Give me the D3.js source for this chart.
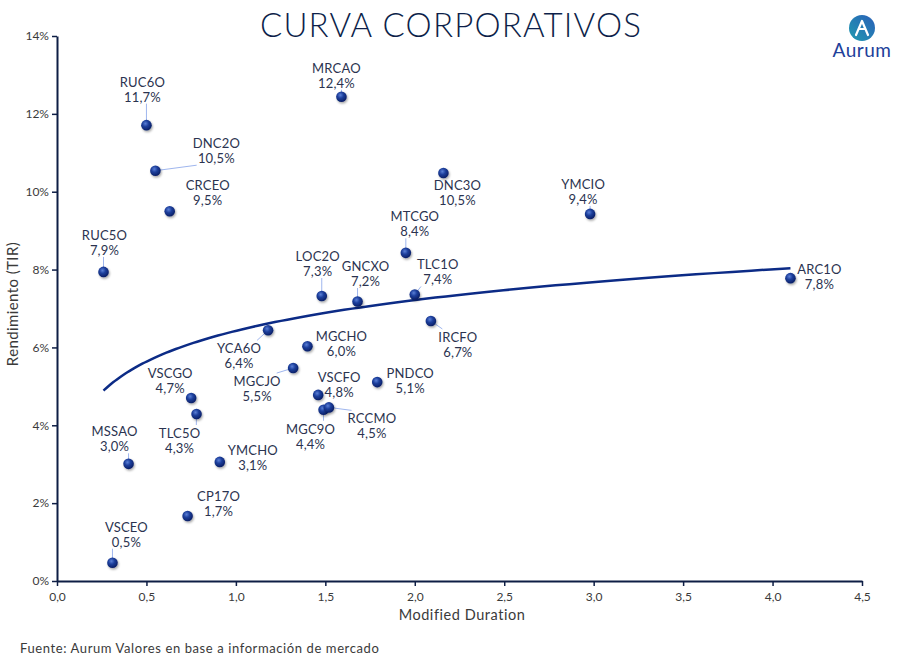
<!DOCTYPE html>
<html><head><meta charset="utf-8">
<script src="https://cdn.jsdelivr.net/npm/d3@7"></script>
<style>
html,body{margin:0;padding:0;background:#fff;}
svg{display:block;font-family:"Lato","Noto Sans",sans-serif;}
</style></head>
<body>
<svg id="chart" width="910" height="661"></svg>
<script>
// ---- data ----
const bonds = ["RUC6O","MRCAO","DNC2O","CRCEO","RUC5O","LOC2O","GNCXO","TLC1O","MTCGO","DNC3O","YMCIO","ARC1O","IRCFO","YCA6O","MGCHO","MGCJO","VSCFO","PNDCO","MGC9O","RCCMO","VSCGO","TLC5O","MSSAO","YMCHO","CP17O","VSCEO"];
const duration = [0.50,1.59,0.55,0.63,0.26,1.48,1.68,2.00,1.95,2.16,2.98,4.10,2.09,1.18,1.40,1.32,1.46,1.79,1.49,1.52,0.75,0.78,0.40,0.91,0.73,0.31];
const yieldPct = [11.71,12.44,10.54,9.50,7.94,7.32,7.18,7.36,8.43,10.48,9.43,7.78,6.68,6.44,6.03,5.47,4.78,5.11,4.40,4.46,4.70,4.29,3.01,3.06,1.67,0.47];
const xTicks = [0,0.5,1,1.5,2,2.5,3,3.5,4,4.5];
const yTicks = [0,2,4,6,8,10,12,14];
// label layout (pixel offset of label block centre from its point) and leader-line flags
const labelOffsets = [[-4,-36.5],[-5,-22],[61,-20.5],[38,-19.5],[1,-30],[-4,-33],[8,-28.5],[23,-23],[9,-29.5],[14,18.5],[-7,-23],[29,-2],[27,23],[-29,25],[34,-3.5],[-36,20],[21,-11],[33,-2.5],[-13,26],[43,18],[-21,-18.5],[-17,26],[-14,-25.5],[33,-4.5],[31,-12.5],[14,-29]];
const hasLeader = [1,1,1,0,1,1,1,1,1,0,1,0,1,1,0,1,0,0,1,1,0,1,1,0,0,1];

const svg = d3.select("#chart");
const L=57,R=862,T=36,B=581;
const x = d3.scaleLinear().domain([0,4.5]).range([L,R]);
const y = d3.scaleLinear().domain([0,14]).range([B,T]);
const navy="#0e1e45", txt="#3a3a3a";
const comma = f => s => f(s).replace(".",",");

// defs
const defs = svg.append("defs");
const rg = defs.append("radialGradient").attr("id","ball").attr("cx","40%").attr("cy","35%").attr("r","65%");
rg.append("stop").attr("offset","0%").attr("stop-color","#5a7fd6");
rg.append("stop").attr("offset","45%").attr("stop-color","#1d3f9c");
rg.append("stop").attr("offset","100%").attr("stop-color","#0a1f66");
const lg = defs.append("linearGradient").attr("id","logo").attr("x1","0").attr("y1","1").attr("x2","1").attr("y2","0");
lg.append("stop").attr("offset","0%").attr("stop-color","#1f9bb0");
lg.append("stop").attr("offset","100%").attr("stop-color","#2a5fb8");
const sh = defs.append("filter").attr("id","shadow").attr("x","-50%").attr("y","-50%").attr("width","200%").attr("height","200%");
sh.append("feDropShadow").attr("dx",1).attr("dy",1.5).attr("stdDeviation",1).attr("flood-color","#000").attr("flood-opacity",0.35);

// title
svg.append("text").attr("x",451).attr("y",37).attr("text-anchor","middle")
  .attr("font-size",33).attr("font-weight",300).attr("fill","#0d1f4a").attr("letter-spacing","1.2")
  .text("CURVA CORPORATIVOS");

// logo
svg.append("circle").attr("cx",862).attr("cy",28).attr("r",13).attr("fill","url(#logo)");
svg.append("path").attr("d","M856,35 L862,21 L868,35 M859,29 L865,29").attr("fill","none").attr("stroke","#fff").attr("stroke-width",2.2).attr("stroke-linejoin","round").attr("stroke-linecap","round");
svg.append("text").attr("x",862).attr("y",57).attr("text-anchor","middle").attr("font-size",19).attr("fill","#21409a").attr("letter-spacing","0.5").text("Aurum");

// axes
const gx = svg.append("g").attr("transform",`translate(0,${B})`)
  .call(d3.axisBottom(x).tickValues(xTicks).tickFormat(comma(d3.format(".1f"))).tickSize(5).tickSizeOuter(0));
const gy = svg.append("g").attr("transform",`translate(${L},0)`)
  .call(d3.axisLeft(y).tickValues(yTicks).tickFormat(d=>d+"%").tickSize(5).tickSizeOuter(0));
[gx,gy].forEach(g=>{
  g.select(".domain").attr("stroke",navy).attr("stroke-width",2);
  g.selectAll(".tick line").attr("stroke",navy).attr("stroke-width",1.5);
  g.selectAll(".tick text").attr("fill",txt).attr("font-size",12).attr("font-family","Lato, sans-serif");
});
gx.selectAll(".tick text").attr("dy","1.0em");
gy.selectAll(".tick text").attr("dy","0.32em").attr("x",-8);

// axis titles
svg.append("text").attr("x",462).attr("y",620).attr("text-anchor","middle").attr("font-size",14.5).attr("letter-spacing","0.55").attr("fill",txt).text("Modified Duration");
svg.append("text").attr("transform","translate(18,304) rotate(-90)").attr("text-anchor","middle").attr("font-size",15).attr("letter-spacing","0.4").attr("fill",txt).text("Rendimiento (TIR)");
svg.append("text").attr("x",20).attr("y",653).attr("font-size",13).attr("letter-spacing","0.6").attr("fill",txt).text("Fuente: Aurum Valores en base a información de mercado");

// logarithmic trendline (least squares on ln(duration))
const lx = duration.map(Math.log);
const mx = d3.mean(lx), my = d3.mean(yieldPct);
const b = d3.sum(lx,(v,i)=>(v-mx)*(yieldPct[i]-my)) / d3.sum(lx,v=>(v-mx)*(v-mx));
const a = my - b*mx;
const [x0,x1] = d3.extent(duration);
const trendX = d3.range(0,101).map(i=>x0*Math.pow(x1/x0,i/100));
svg.append("path").datum(trendX)
  .attr("d",d3.line().x(d=>x(d)).y(d=>y(a+b*Math.log(d))))
  .attr("fill","none").attr("stroke","#0c2b86").attr("stroke-width",2.5);

// labels and leaders
const pts = bonds.map((n,i)=>({n, px:x(duration[i]), py:y(yieldPct[i]), v:yieldPct[i], o:labelOffsets[i], lead:hasLeader[i]}));
const fmtPct = comma(d3.format(".1f"));
const leaderG = svg.append("g");
const labG = svg.append("g");
pts.forEach(p=>{
  const cx=p.px+p.o[0], cy=p.py+p.o[1];
  const t = labG.append("text").attr("text-anchor","middle").attr("font-size",13).attr("letter-spacing","0.2").attr("fill","#2b3350");
  t.append("tspan").attr("x",cx).attr("y",cy-2).text(p.n);
  t.append("tspan").attr("x",cx).attr("y",cy+13).text(fmtPct(p.v)+"%");
  if(p.lead){
    const bb=t.node().getBBox();
    const ex=Math.max(bb.x+4,Math.min(bb.x+bb.width-4,p.px));
    const ey=Math.max(bb.y+2,Math.min(bb.y+bb.height,p.py));
    let tx=ex, ty=ey;
    if(p.py<bb.y) ty=bb.y; else if(p.py>bb.y+bb.height) ty=bb.y+bb.height-1;
    else tx = p.px<bb.x? bb.x : bb.x+bb.width;
    leaderG.append("line").attr("x1",p.px).attr("y1",p.py).attr("x2",tx).attr("y2",ty)
      .attr("stroke","#9fb6ee").attr("stroke-width",1);
  }
});

// markers
svg.append("g").selectAll("circle").data(pts).join("circle")
  .attr("cx",d=>d.px).attr("cy",d=>d.py).attr("r",5.3)
  .attr("fill","url(#ball)").attr("filter","url(#shadow)");
</script>
</body></html>
